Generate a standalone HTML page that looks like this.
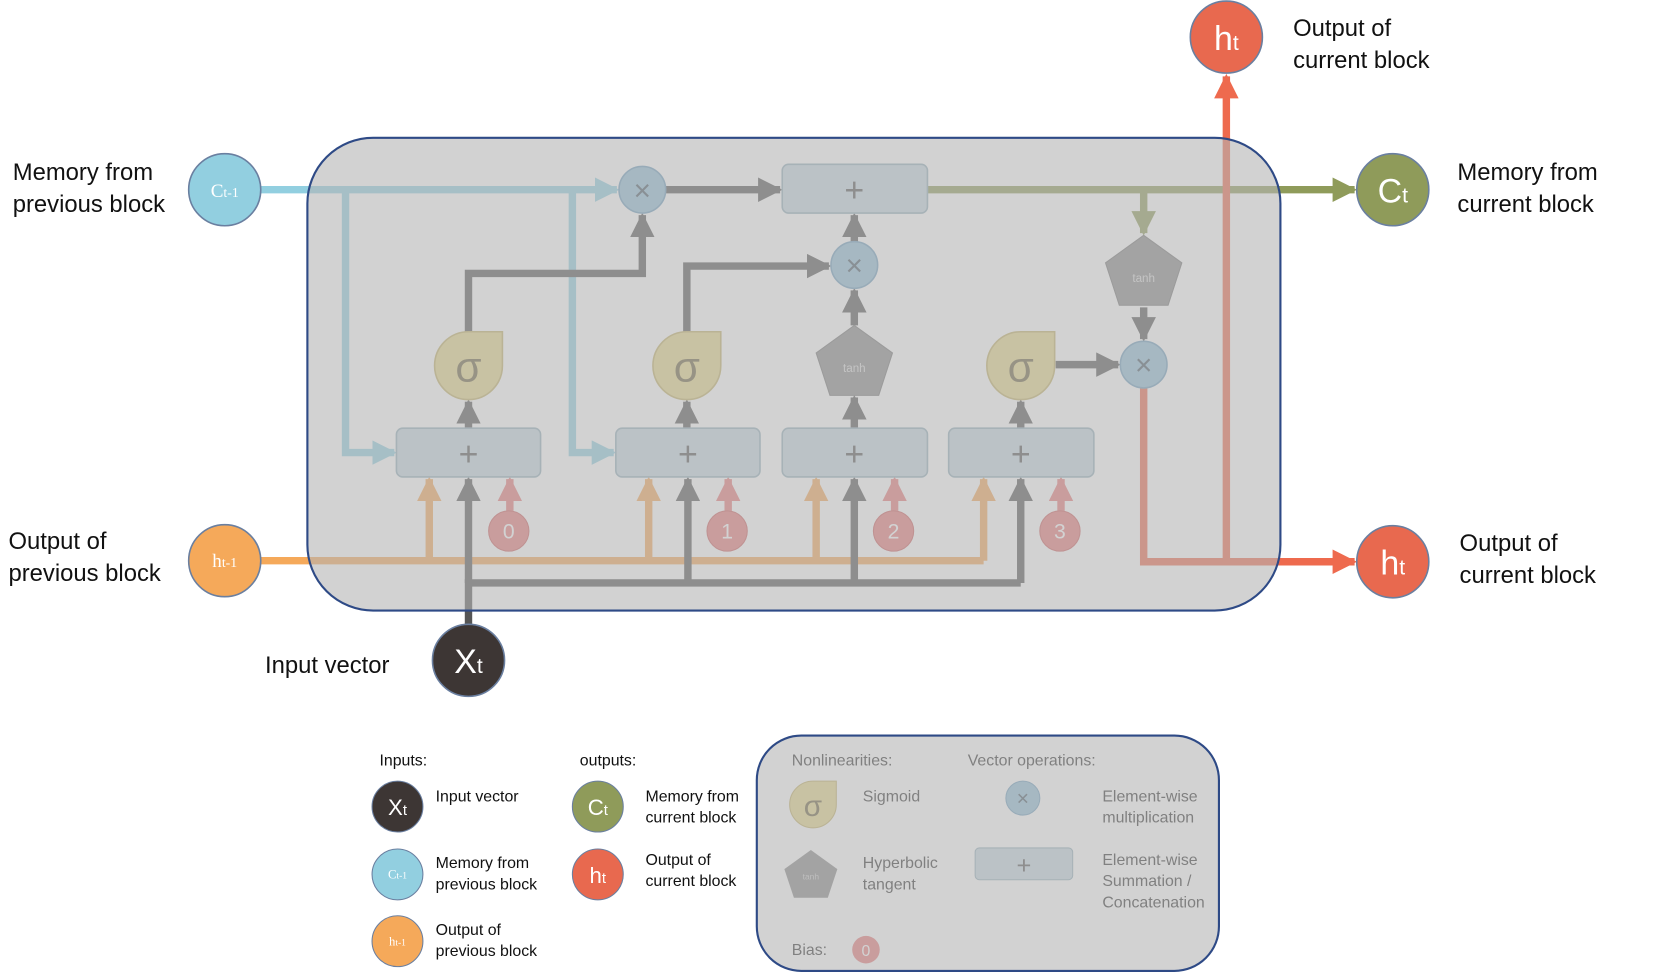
<!DOCTYPE html>
<html><head><meta charset="utf-8"><style>
html,body{margin:0;padding:0;background:#fff;}
svg{display:block;font-family:"Liberation Sans",sans-serif;}
</style></head><body>
<svg width="1662" height="973" viewBox="0 0 1568 918" preserveAspectRatio="none" xmlns="http://www.w3.org/2000/svg">
<defs>
<marker id="aB" viewBox="0 0 10 10" refX="9" refY="5" markerWidth="3.3" markerHeight="3.3" orient="auto"><path d="M0,0L10,5L0,10z" fill="#92cfe0"/></marker>
<marker id="aG" viewBox="0 0 10 10" refX="9" refY="5" markerWidth="3.3" markerHeight="3.3" orient="auto"><path d="M0,0L10,5L0,10z" fill="#555"/></marker>
<marker id="aO" viewBox="0 0 10 10" refX="9" refY="5" markerWidth="3.3" markerHeight="3.3" orient="auto"><path d="M0,0L10,5L0,10z" fill="#f5a95a"/></marker>
<marker id="aP" viewBox="0 0 10 10" refX="9" refY="5" markerWidth="3.3" markerHeight="3.3" orient="auto"><path d="M0,0L10,5L0,10z" fill="#e87c7c"/></marker>
<marker id="aR" viewBox="0 0 10 10" refX="9" refY="5" markerWidth="3.3" markerHeight="3.3" orient="auto"><path d="M0,0L10,5L0,10z" fill="#ee6a4e"/></marker>
<marker id="aV" viewBox="0 0 10 10" refX="9" refY="5" markerWidth="3.3" markerHeight="3.3" orient="auto"><path d="M0,0L10,5L0,10z" fill="#8f9b5a"/></marker>
</defs>

<g fill="none" stroke-width="7">
<path d="M246,179 H582" stroke="#92cfe0" marker-end="url(#aB)"/>
<path d="M326,179 V427 H372" stroke="#92cfe0" marker-end="url(#aB)"/>
<path d="M540,179 V427 H579" stroke="#92cfe0" marker-end="url(#aB)"/>
<path d="M628,179 H736" stroke="#555" marker-end="url(#aG)"/>
<path d="M442,313 V258 H606 V203" stroke="#555" marker-end="url(#aG)"/>
<path d="M648,313 V251 H782" stroke="#555" marker-end="url(#aG)"/>
<path d="M806,228 V203" stroke="#555" marker-end="url(#aG)"/>
<path d="M806,307 V274" stroke="#555" marker-end="url(#aG)"/>
<path d="M996,344 H1055" stroke="#555" marker-end="url(#aG)"/>
<path d="M1079,290 V320" stroke="#555" marker-end="url(#aG)"/>
<path d="M442,404 V379" stroke="#555" marker-end="url(#aG)"/>
<path d="M648,404 V379" stroke="#555" marker-end="url(#aG)"/>
<path d="M806,404 V375" stroke="#555" marker-end="url(#aG)"/>
<path d="M963,404 V379" stroke="#555" marker-end="url(#aG)"/>
<path d="M875,179 H1278" stroke="#8f9b5a" marker-end="url(#aV)"/>
<path d="M1079,179 V220" stroke="#8f9b5a" marker-end="url(#aV)"/>
<path d="M1079,366 V530 H1278" stroke="#ee6a4e" marker-end="url(#aR)"/>
<path d="M1157,530 V72" stroke="#ee6a4e" marker-end="url(#aR)"/>
<path d="M246,529 H928" stroke="#f5a95a"/>
<path d="M405,529 V452" stroke="#f5a95a" marker-end="url(#aO)"/>
<path d="M612,529 V452" stroke="#f5a95a" marker-end="url(#aO)"/>
<path d="M770,529 V452" stroke="#f5a95a" marker-end="url(#aO)"/>
<path d="M928,529 V452" stroke="#f5a95a" marker-end="url(#aO)"/>
<path d="M442,590 V550 H963" stroke="#555"/>
<path d="M442,550 V452" stroke="#555" marker-end="url(#aG)"/>
<path d="M649,550 V452" stroke="#555" marker-end="url(#aG)"/>
<path d="M806,550 V452" stroke="#555" marker-end="url(#aG)"/>
<path d="M963,550 V452" stroke="#555" marker-end="url(#aG)"/>
<path d="M481,482 V452" stroke="#e87c7c" marker-end="url(#aP)"/>
<path d="M687,482 V452" stroke="#e87c7c" marker-end="url(#aP)"/>
<path d="M844,482 V452" stroke="#e87c7c" marker-end="url(#aP)"/>
<path d="M1001,482 V452" stroke="#e87c7c" marker-end="url(#aP)"/>
</g>

<g>
<g fill="#92bfd8" stroke="#6f9fbf" stroke-width="1.5">
<circle cx="606" cy="179" r="22"/><circle cx="806" cy="250" r="22"/><circle cx="1079" cy="344" r="22"/>
</g>
<g font-size="28" fill="#4a5a66" text-anchor="middle">
<text x="606" y="189">×</text><text x="806" y="260">×</text><text x="1079" y="354">×</text>
</g>
<g fill="#c5d7e0" stroke="#93aebb" stroke-width="1.5">
<rect x="738" y="155" width="137" height="46" rx="6"/>
<rect x="374" y="404" width="136" height="46" rx="6"/>
<rect x="581" y="404" width="136" height="46" rx="6"/>
<rect x="738" y="404" width="137" height="46" rx="6"/>
<rect x="895" y="404" width="137" height="46" rx="6"/>
</g>
<g font-size="32" fill="#555" text-anchor="middle">
<text x="806" y="190">+</text><text x="442" y="439">+</text><text x="649" y="439">+</text><text x="806" y="439">+</text><text x="963" y="439">+</text>
</g>
<g fill="#e6d68a" stroke="#c4b266" stroke-width="1.5">
<path d="M442,313 H474 V345 A32,32 0 0 1 442,377 A32,32 0 0 1 410,345 A32,32 0 0 1 442,313Z"/>
<path d="M648,313 H680 V345 A32,32 0 0 1 648,377 A32,32 0 0 1 616,345 A32,32 0 0 1 648,313Z"/>
<path d="M963,313 H995 V345 A32,32 0 0 1 963,377 A32,32 0 0 1 931,345 A32,32 0 0 1 963,313Z"/>
</g>
<g font-size="40" fill="#6b6340" text-anchor="middle">
<text x="442" y="360">σ</text><text x="648" y="360">σ</text><text x="963" y="360">σ</text>
</g>
<g fill="#8a8a8a" stroke="#777" stroke-width="1">
<path d="M806,307 L842,333 L829,373 L783,373 L770,333Z"/>
<path d="M1079,222 L1115,248 L1102,288 L1056,288 L1043,248Z"/>
</g>
<g font-size="11" fill="#ddd" text-anchor="middle">
<text x="806" y="351">tanh</text><text x="1079" y="266">tanh</text>
</g>
<g fill="#e87c7c" stroke="#d06060" stroke-width="1">
<circle cx="480" cy="501" r="19"/><circle cx="686" cy="501" r="19"/><circle cx="843" cy="501" r="19"/><circle cx="1000" cy="501" r="19"/>
</g>
<g font-size="20" fill="#fff" text-anchor="middle">
<text x="480" y="508">0</text><text x="686" y="508">1</text><text x="843" y="508">2</text><text x="1000" y="508">3</text>
</g>
</g>

<rect x="290" y="130" width="918" height="446" rx="62" fill="#b4b4b4" fill-opacity="0.6" stroke="#2e4a86" stroke-width="2"/>

<g stroke="#6a7fa0" stroke-width="1.5">
<circle cx="212" cy="179" r="34" fill="#92cfe0"/>
<circle cx="212" cy="529" r="34" fill="#f5a95a"/>
<circle cx="442" cy="623" r="34" fill="#3d3634"/>
<circle cx="1157" cy="35" r="34" fill="#e8694f"/>
<circle cx="1314" cy="179" r="34" fill="#8f9b5a"/>
<circle cx="1314" cy="530" r="34" fill="#e8694f"/>
</g>
<g fill="#fff" text-anchor="middle">
<text x="212" y="186" font-size="18" font-family="Liberation Serif">C<tspan font-size="13">t-1</tspan></text>
<text x="212" y="535" font-size="18" font-family="Liberation Serif">h<tspan font-size="13">t-1</tspan></text>
<text x="442" y="635" font-size="32">X<tspan font-size="20">t</tspan></text>
<text x="1157" y="47" font-size="32">h<tspan font-size="20">t</tspan></text>
<text x="1314" y="191" font-size="32">C<tspan font-size="20">t</tspan></text>
<text x="1314" y="542" font-size="32">h<tspan font-size="20">t</tspan></text>
</g>

<g font-size="22.5" fill="#111">
<text x="12" y="170">Memory from</text><text x="12" y="200">previous block</text>
<text x="8" y="518">Output of</text><text x="8" y="548">previous block</text>
<text x="250" y="635">Input vector</text>
<text x="1220" y="34">Output of</text><text x="1220" y="64">current block</text>
<text x="1375" y="170">Memory from</text><text x="1375" y="200">current block</text>
<text x="1377" y="520">Output of</text><text x="1377" y="550">current block</text>
</g>

<g font-size="15" fill="#111">
<text x="358" y="722">Inputs:</text>
<text x="547" y="722">outputs:</text>
<text x="411" y="756">Input vector</text>
<text x="411" y="819">Memory from</text><text x="411" y="839">previous block</text>
<text x="411" y="882">Output of</text><text x="411" y="902">previous block</text>
<text x="609" y="756">Memory from</text><text x="609" y="776">current block</text>
<text x="609" y="816">Output of</text><text x="609" y="836">current block</text>
</g>
<g stroke="#6a7fa0" stroke-width="1">
<circle cx="375" cy="761" r="24" fill="#3d3634"/>
<circle cx="375" cy="825" r="24" fill="#92cfe0"/>
<circle cx="375" cy="888" r="24" fill="#f5a95a"/>
<circle cx="564" cy="761" r="24" fill="#8f9b5a"/>
<circle cx="564" cy="825" r="24" fill="#e8694f"/>
</g>
<g fill="#fff" text-anchor="middle">
<text x="375" y="769" font-size="21">X<tspan font-size="14">t</tspan></text>
<text x="375" y="829" font-size="12" font-family="Liberation Serif">C<tspan font-size="9">t-1</tspan></text>
<text x="375" y="892" font-size="12" font-family="Liberation Serif">h<tspan font-size="9">t-1</tspan></text>
<text x="564" y="769" font-size="21">C<tspan font-size="14">t</tspan></text>
<text x="564" y="833" font-size="21">h<tspan font-size="14">t</tspan></text>
</g>

<path d="M767,737 H789 V759 A22,22 0 0 1 767,781 A22,22 0 0 1 745,759 A22,22 0 0 1 767,737Z" fill="#e6d68a" stroke="#c4b266"/>
<text x="767" y="770" font-size="28" fill="#6b6340" text-anchor="middle">σ</text>
<circle cx="965" cy="753" r="16" fill="#92bfd8" stroke="#6f9fbf"/>
<text x="965" y="760" font-size="20" fill="#4a5a66" text-anchor="middle">×</text>
<path d="M765,802 L790,820 L781,847 L749,847 L740,820Z" fill="#8a8a8a"/>
<text x="765" y="830" font-size="8" fill="#ccc" text-anchor="middle">tanh</text>
<rect x="920" y="800" width="92" height="30" rx="4" fill="#c5d7e0" stroke="#93aebb"/>
<text x="966" y="824" font-size="24" fill="#555" text-anchor="middle">+</text>
<circle cx="817" cy="896" r="13" fill="#e87c7c"/>
<text x="817" y="902" font-size="15" fill="#fff" text-anchor="middle">0</text>
<g font-size="15" fill="#333">
<text x="747" y="722">Nonlinearities:</text>
<text x="913" y="722">Vector operations:</text>
<text x="814" y="756">Sigmoid</text>
<text x="1040" y="756">Element-wise</text><text x="1040" y="776">multiplication</text>
<text x="814" y="819">Hyperbolic</text><text x="814" y="839">tangent</text>
<text x="1040" y="816">Element-wise</text><text x="1040" y="836">Summation /</text><text x="1040" y="856">Concatenation</text>
<text x="747" y="901">Bias:</text>
</g>
<rect x="714" y="694" width="436" height="222" rx="42" fill="#b4b4b4" fill-opacity="0.6" stroke="#2e4a86" stroke-width="2"/>
</svg>
</body></html>
